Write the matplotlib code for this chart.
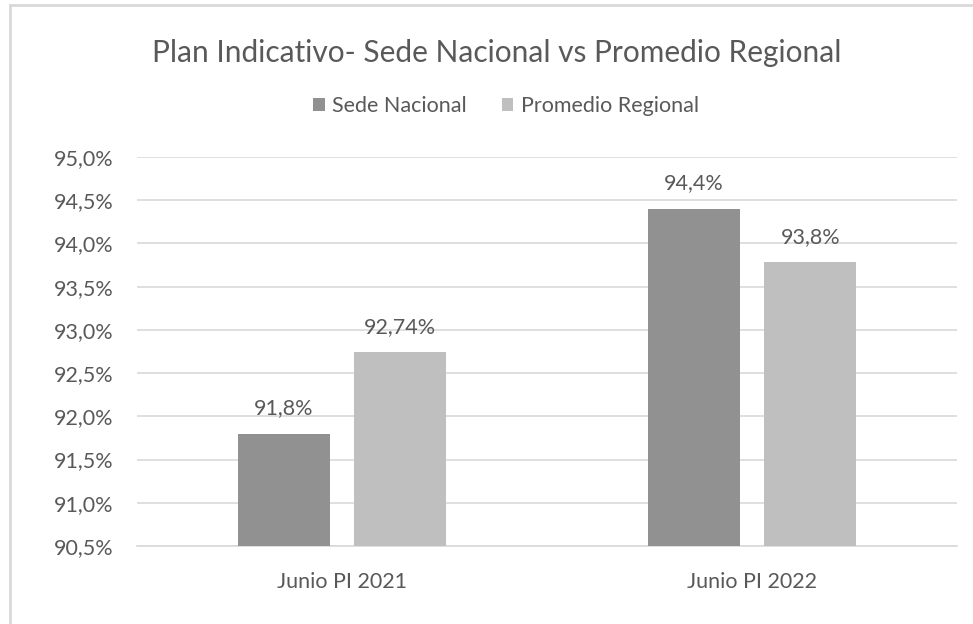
import matplotlib
matplotlib.use("Agg")
import matplotlib.pyplot as plt
import matplotlib.lines as lines
import numpy as np

categorias = ["Junio PI 2021", "Junio PI 2022"]
series = ["Sede Nacional", "Promedio Regional"]
sede_nacional = [91.8, 94.4]
promedio_regional = [92.74, 93.78]
etiquetas_sede = ["91,8%", "94,4%"]
etiquetas_promedio = ["92,74%", "93,8%"]
y_ticks = [90.5, 91.0, 91.5, 92.0, 92.5, 93.0, 93.5, 94.0, 94.5, 95.0]

plt.rcParams["font.family"] = ["Lato", "DejaVu Sans"]
texto = "#595959"
grid = "#D9D9D9"
fs = 15.5

fig = plt.figure(figsize=(9.73, 6.24), dpi=100)
ax = fig.add_axes([137 / 973, 1 - 546 / 624, 820 / 973, 389 / 624])

x = np.arange(len(categorias))
w = 0.224
off = 0.142
b1 = ax.bar(x - off, np.array(sede_nacional) - 90.5, w, bottom=90.5,
            color="#919191", label=series[0], zorder=3)
b2 = ax.bar(x + off, np.array(promedio_regional) - 90.5, w, bottom=90.5,
            color="#BFBFBF", label=series[1], zorder=3)

for bars, labels in ((b1, etiquetas_sede), (b2, etiquetas_promedio)):
    for rect, lab in zip(bars, labels):
        ax.annotate(lab, (rect.get_x() + rect.get_width() / 2, rect.get_y() + rect.get_height()),
                    xytext=(0, 11), textcoords="offset points", ha="center", va="bottom",
                    fontsize=fs, color=texto)

ax.set_xlim(-0.5, 1.5)
ax.set_ylim(90.5, 95.0)
ax.set_yticks(y_ticks)
ax.set_yticklabels([("%.1f%%" % v).replace(".", ",") for v in y_ticks])
ax.set_xticks(x)
ax.set_xticklabels(categorias)
ax.tick_params(length=0, labelsize=fs, colors=texto)
ax.tick_params(axis="y", pad=17)
ax.tick_params(axis="x", pad=19)
ax.yaxis.grid(True, color=grid, linewidth=1.2, zorder=0)
for s in ["top", "right", "left"]:
    ax.spines[s].set_visible(False)
ax.spines["bottom"].set_color(grid)
ax.spines["bottom"].set_linewidth(1.2)

fig.text(497 / 973, 1 - 53 / 624, "Plan Indicativo- Sede Nacional vs Promedio Regional",
         ha="center", va="center", fontsize=21.5, color=texto)
fig.legend(loc="center", bbox_to_anchor=(506 / 973, 1 - 106 / 624), ncol=2, frameon=False,
           fontsize=fs, labelcolor=texto, handlelength=0.55, handleheight=0.55,
           handletextpad=0.35, columnspacing=1.6)

# chart border (left and top edges visible)
fig.add_artist(lines.Line2D([10 / 973, 10 / 973], [0, 1 - 5 / 624], color="#D9D9D9", linewidth=2))
fig.add_artist(lines.Line2D([10 / 973, 1], [1 - 5 / 624, 1 - 5 / 624], color="#D9D9D9", linewidth=2))

fig.savefig("out.png", dpi=100)
